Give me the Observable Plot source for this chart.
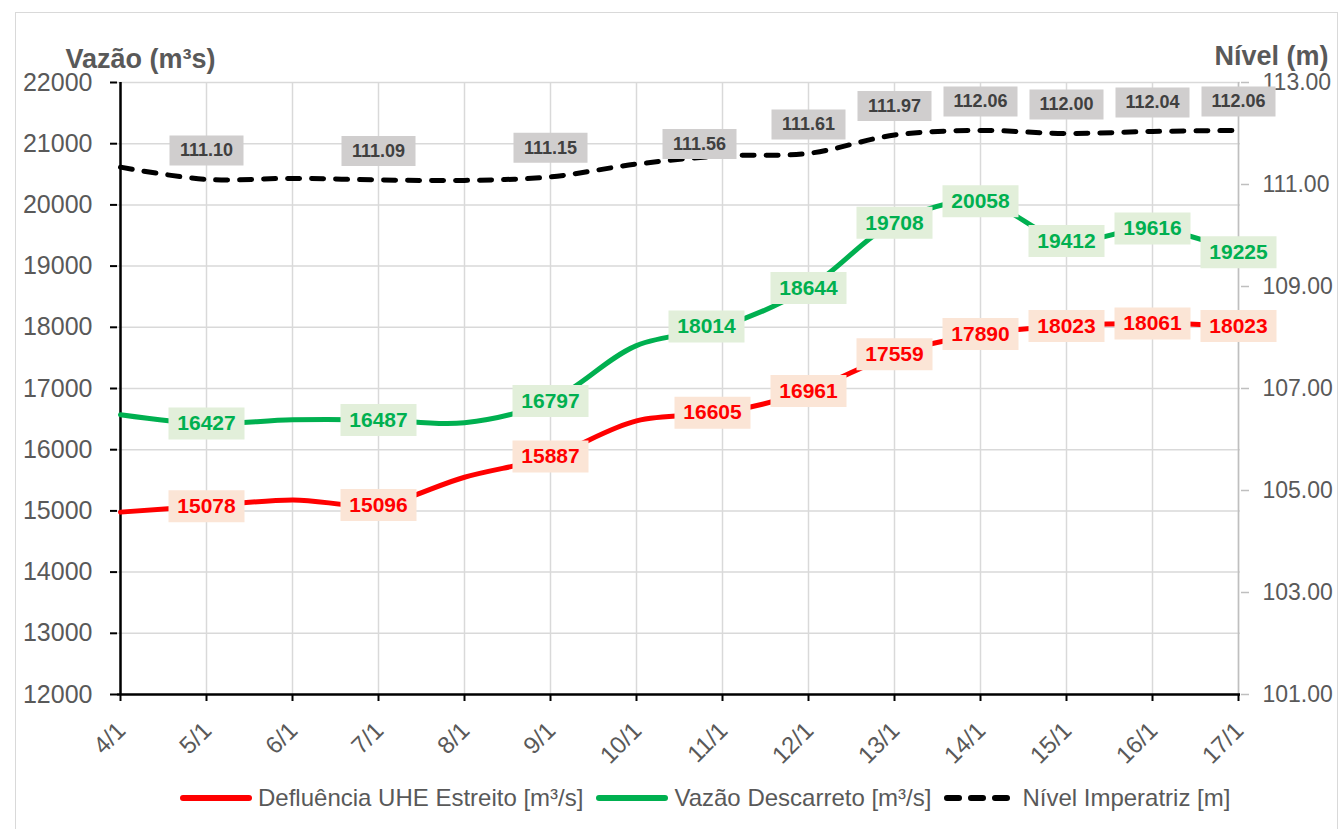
<!DOCTYPE html>
<html>
<head>
<meta charset="utf-8">
<script src="https://cdn.jsdelivr.net/npm/d3@7"></script>
<script src="https://cdn.jsdelivr.net/npm/@observablehq/plot@0.6"></script>
<style>
  html, body { margin: 0; padding: 0; background: #fff; }
  #wrap { position: relative; width: 1339px; height: 829px; overflow: hidden; font-family: "Liberation Sans", Arial, sans-serif; }
  #frame { position: absolute; left: 15px; top: 12px; width: 1321px; height: 840px; border: 1.5px solid #D9D9D9; pointer-events: none; }
  #legend { position: absolute; left: 179px; top: 783px; height: 30px; display: flex; align-items: center; font-size: 24px; color: #595959; white-space: nowrap; }
  #legend .item { display: flex; align-items: center; margin-right: 12px; }
  #legend svg { margin-right: 5px; }
</style>
</head>
<body>
<div id="wrap">
  <div id="chart"></div>
  <div id="legend"></div>
  <div id="frame"></div>
</div>
<script>
// ---- data ----
const dates = ["4/1","5/1","6/1","7/1","8/1","9/1","10/1","11/1","12/1","13/1","14/1","15/1","16/1","17/1"];
const defluencia = [14980, 15078, 15180, 15096, 15550, 15887, 16470, 16605, 16961, 17559, 17890, 18023, 18061, 18023];
const descarreto = [16570, 16427, 16490, 16487, 16440, 16797, 17700, 18014, 18644, 19708, 20058, 19412, 19616, 19225];
const nivel = [111.34, 111.10, 111.12, 111.09, 111.08, 111.15, 111.40, 111.56, 111.61, 111.97, 112.06, 112.00, 112.04, 112.06];
const labeledDates = ["5/1","7/1","9/1","11/1","12/1","13/1","14/1","15/1","16/1","17/1"];
const flowTicks = [12000, 13000, 14000, 15000, 16000, 17000, 18000, 19000, 20000, 21000, 22000];
const levelTicks = [101, 103, 105, 107, 109, 111, 113];
const flowDomain = [12000, 22000];
const levelDomain = [101, 113];
const seriesNames = ["Defluência UHE Estreito [m³/s]", "Vazão Descarreto [m³/s]", "Nível Imperatriz [m]"];
const leftTitle = "Vazão (m³s)";
const rightTitle = "Nível (m)";

// ---- helpers ----
const levelToFlow = l => flowDomain[0] + (l - levelDomain[0]) / (levelDomain[1] - levelDomain[0]) * (flowDomain[1] - flowDomain[0]);
const flowToLevel = v => levelDomain[0] + (v - flowDomain[0]) / (flowDomain[1] - flowDomain[0]) * (levelDomain[1] - levelDomain[0]);

const rows = dates.map((d, i) => ({date: d, red: defluencia[i], green: descarreto[i], level: nivel[i], lv: levelToFlow(nivel[i])}));
const labeledRows = rows.filter(r => labeledDates.includes(r.date));

const RED = "#FF0000", GREEN = "#00B050";
const box = (w, h) => ({draw(ctx) { ctx.rect(-w / 2, -h / 2, w, h); }});

function labelMarks(yKey, textFn, o, shiftDate, shift) {
  const groups = [
    [labeledRows.filter(r => r.date !== shiftDate), o.dx || 0, o.dy || 0],
    [labeledRows.filter(r => r.date === shiftDate), shift.dx, shift.dy]
  ];
  return groups.flatMap(([data, dx, dy]) => [
    Plot.dot(data, {x: "date", y: yKey, symbol: box(o.w, o.h), fill: o.bg, stroke: null, dx, dy}),
    Plot.text(data, {x: "date", y: yKey, text: textFn, fill: o.color, fontSize: o.fontSize, fontWeight: "bold", dx, dy, lineAnchor: "middle"})
  ]);
}

const chart = Plot.plot({
  width: 1339,
  height: 782,
  marginLeft: 117,
  marginRight: 99,
  marginTop: 82,
  marginBottom: 88,
  style: {fontFamily: "'Liberation Sans', Arial, sans-serif", background: "transparent", overflow: "visible"},
  x: {type: "point", domain: dates, padding: 0, label: null},
  y: {domain: flowDomain, label: null},
  marks: [
    Plot.gridY(flowTicks, {stroke: "#D9D9D9", strokeOpacity: 1, strokeWidth: 1.5}),
    Plot.gridX(dates, {stroke: "#D9D9D9", strokeOpacity: 1, strokeWidth: 1.5}),
    // right axis (gray)
    Plot.ruleX([dates[dates.length - 1]], {stroke: "#BFBFBF", strokeWidth: 1.5}),
    Plot.axisY(levelTicks.map(levelToFlow), {anchor: "right", tickSize: 8, tickPadding: 14, stroke: "#BFBFBF", strokeWidth: 1.5, fill: "#595959", fontSize: 23, tickFormat: v => flowToLevel(v).toFixed(2), label: null}),
    // left axis
    Plot.axisY(flowTicks, {anchor: "left", tickSize: 7, tickPadding: 18, stroke: "#000", strokeWidth: 2, fill: "#595959", fontSize: 25, tickFormat: d => String(d), label: null}),
    // bottom axis: ticks, then rotated labels
    Plot.axisX(dates, {anchor: "bottom", tickSize: 7, stroke: "#000", strokeWidth: 2, fill: "none", label: null}),
    Plot.text(dates, {x: d => d, text: d => d, frameAnchor: "bottom", rotate: -45, textAnchor: "end", lineAnchor: "middle", dx: 1, dy: 32, fontSize: 24, fill: "#595959"}),
    Plot.ruleX([dates[0]], {stroke: "#000", strokeWidth: 2.5}),
    Plot.ruleY([flowDomain[0]], {stroke: "#000", strokeWidth: 2.5}),
    // lines
    Plot.line(rows, {x: "date", y: "red", stroke: RED, strokeWidth: 5, curve: "catmull-rom", strokeLinecap: "round", strokeLinejoin: "round"}),
    Plot.line(rows, {x: "date", y: "green", stroke: GREEN, strokeWidth: 5, curve: "catmull-rom", strokeLinecap: "round", strokeLinejoin: "round"}),
    Plot.line(rows, {x: "date", y: "lv", stroke: "#000", strokeWidth: 5, curve: "catmull-rom", strokeDasharray: "12,12", strokeLinecap: "round"}),
    // data labels
    ...labelMarks("red", d => String(d.red), {bg: "#FBE5D6", color: RED, w: 76, h: 32, fontSize: 21}, "11/1", {dx: -10, dy: 0}),
    ...labelMarks("green", d => String(d.green), {bg: "#E2EFDA", color: GREEN, w: 76, h: 32, fontSize: 21}, "11/1", {dx: -16, dy: 0}),
    ...labelMarks("lv", d => d.level.toFixed(2), {bg: "#D0CECE", color: "#404040", w: 74, h: 30, fontSize: 18, dy: -29}, "11/1", {dx: -23, dy: -12}),
    // axis titles
    Plot.text([leftTitle], {frameAnchor: "top-left", text: d => d, dx: -52, dy: -15, textAnchor: "start", lineAnchor: "bottom", fontSize: 27, fontWeight: "bold", fill: "#595959"}),
    Plot.text([rightTitle], {frameAnchor: "top-right", text: d => d, dx: 88, dy: -18, textAnchor: "end", lineAnchor: "bottom", fontSize: 27, fontWeight: "bold", fill: "#595959"})
  ]
});
document.getElementById("chart").appendChild(chart);

// ---- legend ----
const legendStyles = [
  {stroke: RED, dash: null},
  {stroke: GREEN, dash: null},
  {stroke: "#000", dash: "12,12"}
];
const legend = document.getElementById("legend");
seriesNames.forEach((name, i) => {
  const s = legendStyles[i];
  const item = document.createElement("div");
  item.className = "item";
  item.innerHTML = `<svg width="74" height="12"><line x1="4" y1="6" x2="70" y2="6" stroke="${s.stroke}" stroke-width="6" stroke-linecap="round" ${s.dash ? `stroke-dasharray="${s.dash}"` : ""}/></svg><span>${name}</span>`;
  legend.appendChild(item);
});
</script>
</body>
</html>
